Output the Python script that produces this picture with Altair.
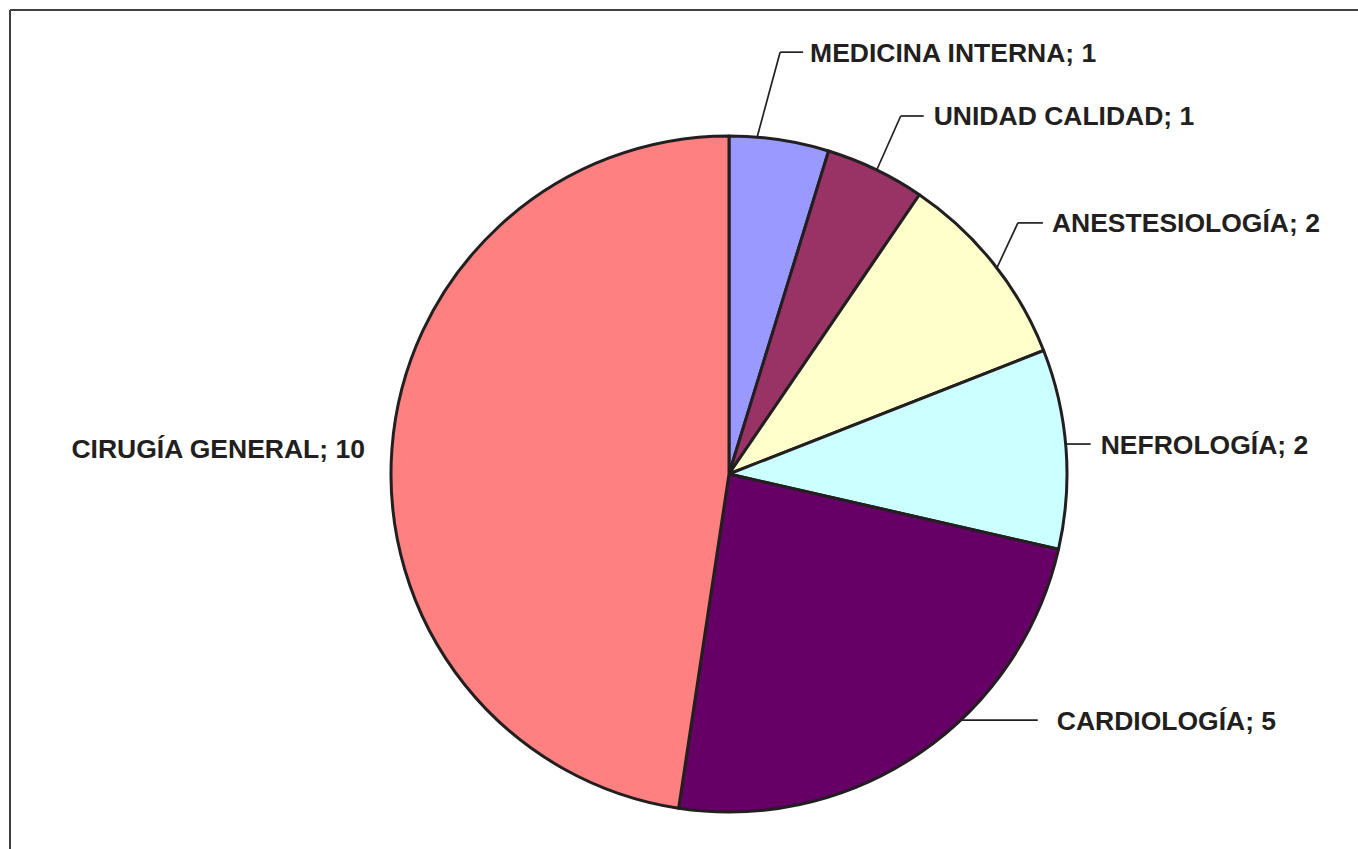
import math
import altair as alt
import pandas as pd

# ---- data ----
categories = ["MEDICINA INTERNA", "UNIDAD CALIDAD", "ANESTESIOLOGÍA",
              "NEFROLOGÍA", "CARDIOLOGÍA", "CIRUGÍA GENERAL"]
values = [1, 1, 2, 2, 5, 10]
colors = ["#9999FF", "#993366", "#FFFFCC", "#CCFFFF", "#660066", "#FF8080"]

# ---- layout ----
W, H = 1358, 849
CX, CY, R = 729, 474, 338
FONT = "Liberation Sans"
FS = 26.5
INK = "#231f20"
# per label: (edge-angle nudge deg, elbow dx, elbow dy, horizontal len, text gap, side)
label_layout = [
    (-3.8, 23, -85, 23, 7, "right"),
    (0.2, 24, -54, 23, 10, "right"),
    (1.0, 21, -45, 25, 9, "right"),
    (-0.8, 0, 0, 25, 10, "right"),
    (-9.0, 0, 0, 77, 19, "right"),
    (0.0, 0, 0, 0, 27, "left"),
]

total = sum(values)
pie_df = pd.DataFrame({"cat": categories, "value": values,
                       "idx": list(range(len(values)))})

segs, texts = [], []
cum = 0
for cat, v, lay in zip(categories, values, label_layout):
    mid = (cum + v / 2) / total * 360.0
    cum += v
    nudge, edx, edy, hlen, gap, side = lay
    a = math.radians(mid + nudge)
    ex, ey = CX + R * math.sin(a), CY - R * math.cos(a)
    bx, by = ex + edx, ey + edy
    if edx or edy:
        segs.append({"x": ex, "y": ey, "x2": bx, "y2": by})
    if side == "right":
        if hlen:
            segs.append({"x": bx, "y": by, "x2": bx + hlen, "y2": by})
        tx = bx + hlen + gap
    else:
        if hlen:
            segs.append({"x": bx, "y": by, "x2": bx - hlen, "y2": by})
        tx = bx - hlen - gap
    texts.append({"x": tx, "y": by + 9.5, "label": f"{cat}; {v}", "side": side})

seg_df = pd.DataFrame(segs)
txt_df = pd.DataFrame(texts)
frame_df = pd.DataFrame([
    {"x": 10, "y": 10, "x2": W + 20, "y2": 10},
    {"x": 10, "y": 10, "x2": 10, "y2": H + 20},
])

xs = alt.Scale(domain=[0, W], range=[0, W], nice=False, zero=False)
ys = alt.Scale(domain=[0, H], range=[0, H], nice=False, zero=False)

pie = alt.Chart(pie_df).mark_arc(
    outerRadius=R, stroke=INK, strokeWidth=3, strokeJoin="round"
).encode(
    theta=alt.Theta("value:Q", stack=True),
    color=alt.Color("cat:N", scale=alt.Scale(domain=categories, range=colors), legend=None),
    order=alt.Order("idx:Q"),
    x=alt.value(CX),
    y=alt.value(CY),
)

leaders = alt.Chart(seg_df).mark_rule(color=INK, strokeWidth=1.7).encode(
    x=alt.X("x:Q", scale=xs, axis=None),
    y=alt.Y("y:Q", scale=ys, axis=None),
    x2="x2:Q", y2="y2:Q",
)

frame = alt.Chart(frame_df).mark_rule(color="#404040", strokeWidth=2).encode(
    x=alt.X("x:Q", scale=xs, axis=None),
    y=alt.Y("y:Q", scale=ys, axis=None),
    x2="x2:Q", y2="y2:Q",
)

def text_layer(side, align):
    return alt.Chart(txt_df).transform_filter(
        alt.datum.side == side
    ).mark_text(
        align=align, baseline="alphabetic", font=FONT, fontSize=FS,
        fontWeight="bold", color=INK
    ).encode(
        x=alt.X("x:Q", scale=xs, axis=None),
        y=alt.Y("y:Q", scale=ys, axis=None),
        text="label:N",
    )

chart = alt.layer(
    frame, pie, leaders, text_layer("right", "left"), text_layer("left", "right")
).properties(
    width=W, height=H, padding=0, autosize="none", background="white"
).configure_view(stroke=None)

chart.save("out.html", embed_options={"renderer": "svg", "actions": False})
